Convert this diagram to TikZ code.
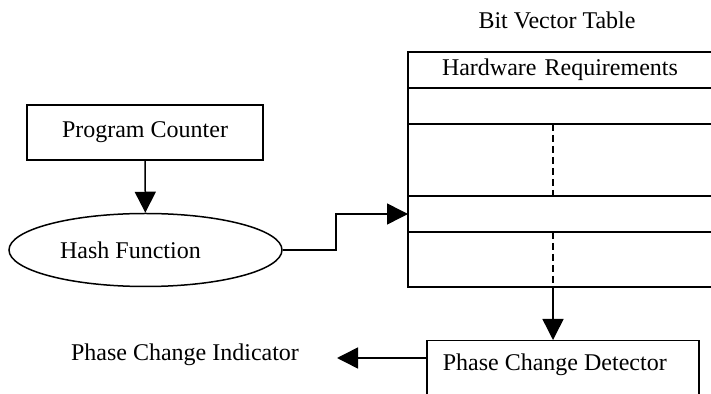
\documentclass[tikz,border=0pt]{standalone}
\usepackage{fontspec}
\setmainfont{Liberation Serif}
\usetikzlibrary{positioning, arrows.meta, shapes.geometric}

\tikzset{
  box/.style={rectangle, draw, line width=0.75pt},
  tablerow/.style={rectangle, draw, line width=0.75pt, minimum width=176pt, inner sep=0pt, outer sep=0pt},
  bigarrow/.style={line width=0.75pt, -{Triangle[width=10.5pt,length=10.5pt]}}
}

\begin{document}
\begin{tikzpicture}[x=0.5pt, y=-0.5pt, font=\fontsize{12pt}{14pt}\selectfont, node distance=0pt]

		\clip (0,0) rectangle (711,394);

		%Tabella dei bit vector
		\node (bitTableTitle) at (557,20) {Bit Vector Table};
		\node (hwReq) at (408,52) [tablerow, anchor=north west, minimum height=18pt, text width=142pt, inner xsep=17pt, align=left] {Hardware Requirements};
		\node (row1) [tablerow, below=of hwReq, minimum height=18pt] {};
		\node (row2) [tablerow, below=of row1, minimum height=36pt] {};
		\node (hashRow) [tablerow, below=of row2, minimum height=18pt] {};
		\node (row4) [tablerow, below=of hashRow, minimum height=27.5pt] {};
		\coordinate (split) at (553,0);
		\draw[dash pattern=on 3.5pt off 2pt, line width=0.75pt] (row2.north -| split) -- (row2.south -| split);
		\draw[dash pattern=on 3.5pt off 2pt, line width=0.75pt] (row4.north -| split) -- (row4.south -| split);

		%Nodi a sinistra
		\node (progCounter) at (145,132.5) [box, minimum width=118pt, minimum height=27.5pt] {Program Counter};
		\node (hashFunc) at (145.5,250) [ellipse, draw, line width=0.75pt, minimum width=136.5pt, minimum height=36.5pt, inner sep=0pt] {Hash Function\hspace*{15pt}};

		%Rilevatore di cambio fase
		\node (phaseDetector) at (426,340) [box, anchor=north west, minimum width=136pt, text height=9pt, text depth=20pt, inner ysep=6pt] {Phase Change Detector\hspace*{8pt}};
		\node (phaseIndicator) at (185,355) {Phase Change Indicator};
		\coordinate (indicatorIn) at (337,358);

		\draw[bigarrow] (progCounter) -- (hashFunc);
		\draw[bigarrow] (hashFunc.east) -- ++(53,0) |- (hashRow.west);
		\draw[bigarrow] (row4.south -| split) -- (phaseDetector.north -| split);
		\draw[bigarrow] (phaseDetector.west |- indicatorIn) -- (indicatorIn);

\end{tikzpicture}
\end{document}
